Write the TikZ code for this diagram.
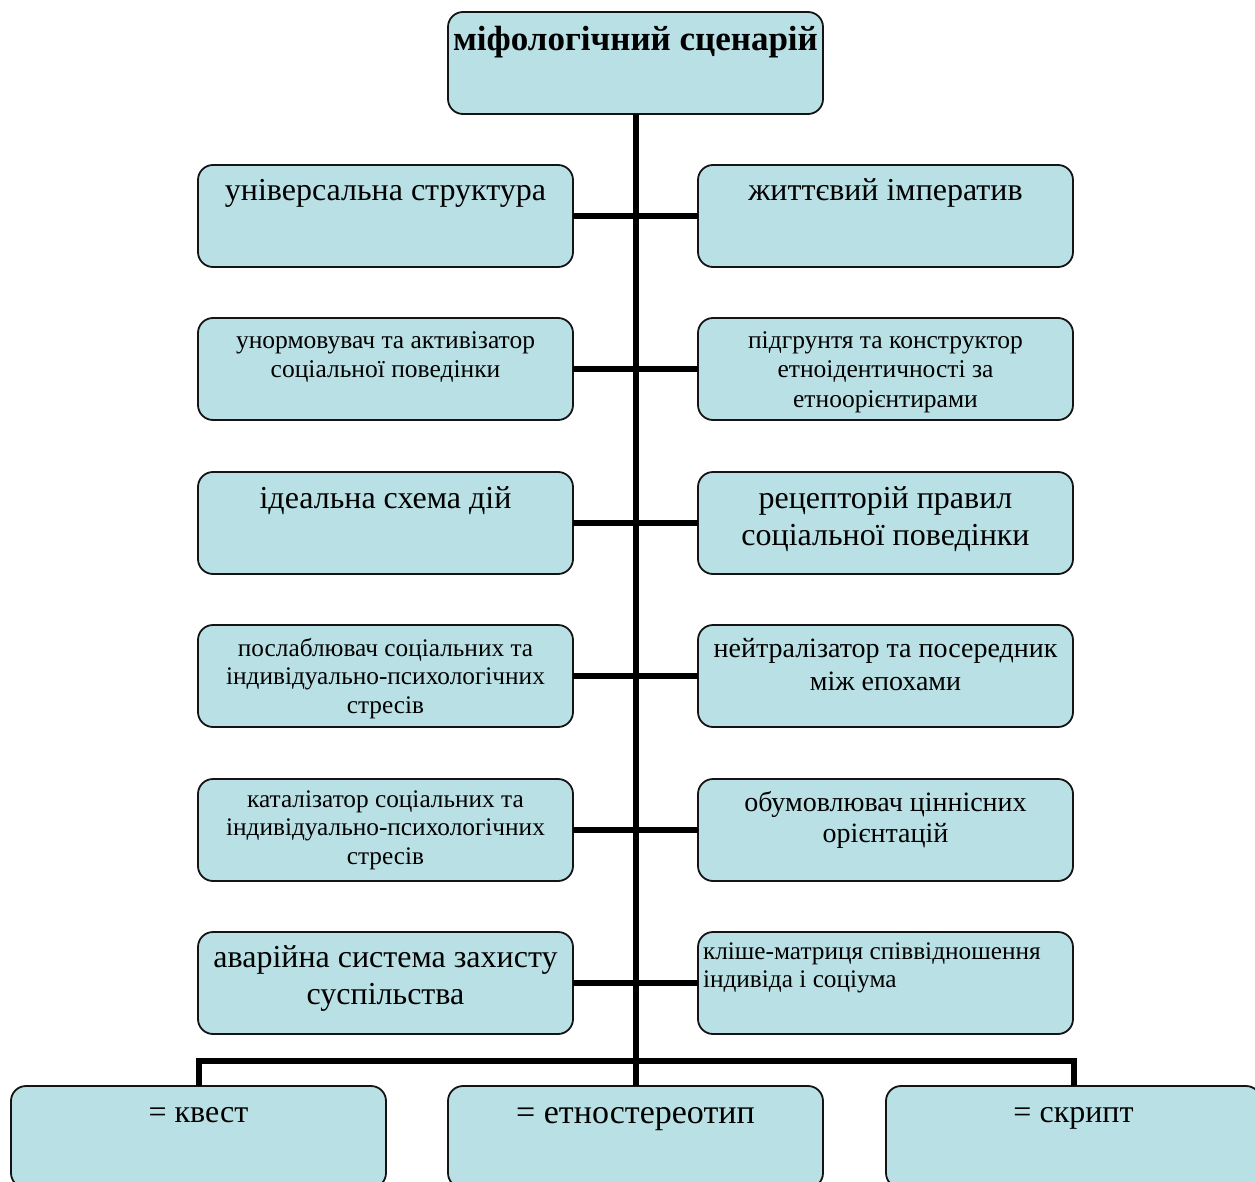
\documentclass[tikz,border=0pt]{standalone}
\usepackage{fontspec}
\setmainfont{Liberation Serif}
\definecolor{boxfill}{RGB}{185,224,228}
\definecolor{boxline}{RGB}{20,20,20}
\newcommand\ctext[4]{\parbox[c][102pt][t]{375pt}{\centering\fontsize{#1pt}{#2pt}\selectfont\leftskip=4pt plus 1fil\rightskip=4pt plus 1fil\parfillskip=0pt\rule{0pt}{#3pt}#4\par}}
\newcommand\ltext[4]{\parbox[c][102pt][t]{375pt}{\raggedright\fontsize{#1pt}{#2pt}\selectfont\leftskip=5pt\rule{0pt}{#3pt}#4\par}}
\tikzset{
  box/.style={draw=boxline, line width=1.8pt, fill=boxfill, rounded corners=15pt, inner sep=0pt, outer sep=0pt, anchor=north west},
  conn/.style={draw=black, line width=6pt}
}
\begin{document}
\begin{tikzpicture}[x=1pt,y=-1pt]
\useasboundingbox (0,0) rectangle (1255,1182);
\clip (0,0) rectangle (1255,1182);
\node[box] (top) at (448,12) {\ctext{35}{40}{39}{\bfseries міфологічний сценарій}};
\node[box] (l1) at (198,165) {\ctext{32}{37}{36}{універсальна структура}};
\node[box] (r1) at (698,165) {\ctext{32}{37}{36}{життєвий імператив}};
\node[box] (l2) at (198,318) {\ctext{25.5}{29.5}{30}{унормовувач та активізатор\\соціальної поведінки}};
\node[box] (r2) at (698,318) {\ctext{25.5}{29.5}{30}{підгрунтя та конструктор\\етноідентичності за\\етноорієнтирами}};
\node[box] (l3) at (198,472) {\ctext{32}{37}{36}{ідеальна схема дій}};
\node[box] (r3) at (698,472) {\ctext{32}{37}{36}{рецепторій правил\\соціальної поведінки}};
\node[box] (l4) at (198,625) {\ctext{25.3}{28.5}{31}{послаблювач соціальних та\\індивідуально-психологічних\\стресів}};
\node[box] (r4) at (698,625) {\ctext{28}{33}{32}{нейтралізатор та посередник\\між епохами}};
\node[box] (l5) at (198,779) {\ctext{25.3}{28.5}{28}{каталізатор соціальних та\\індивідуально-психологічних\\стресів}};
\node[box] (r5) at (698,779) {\ctext{28}{31.5}{32}{обумовлювач ціннісних\\орієнтацій}};
\node[box] (l6) at (198,932) {\ctext{32}{37}{35}{аварійна система захисту\\суспільства}};
\node[box] (r6) at (698,932) {\ltext{25.3}{28}{27}{кліше-матриця співвідношення\\індивіда і соціума}};
\node[box] (b1) at (11,1086) {\ctext{32}{36}{36}{= квест}};
\node[box] (b2) at (448,1086) {\ctext{34}{38}{37}{= етностереотип}};
\node[box] (b3) at (886,1086) {\ctext{32}{36}{36}{= скрипт}};
\draw[conn] (top.south) -- (b2.north);
\foreach \i in {1,...,6} { \draw[conn] (l\i.east) -- (r\i.west); }
\draw[conn] (b1.north) -- ++(0,-25) -| (b3.north);
\end{tikzpicture}
\end{document}
